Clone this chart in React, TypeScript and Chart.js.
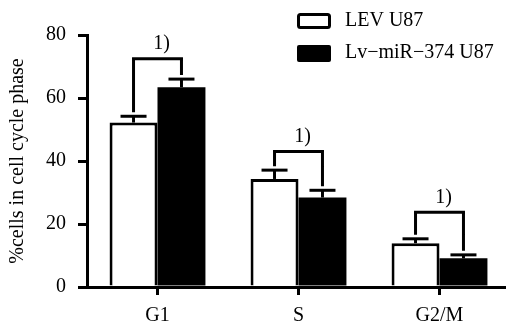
import React, { useEffect, useRef } from "react";
import { Chart, registerables } from "chart.js";

Chart.register(...registerables);

const categories = ["G1", "S", "G2/M"];
const seriesLabels = ["LEV U87", "Lv\u2212miR\u2212374 U87"];
const levValues = [52.2, 34.3, 13.9];
const levErrors = [2.0, 2.8, 1.4];
const mirValues = [63.4, 28.4, 9.1];
const mirErrors = [2.6, 2.3, 1.1];
const bracketLevels = [72.5, 43, 23.7];
const bracketLabels = ["1)", "1)", "1)"];
const yTicks = [0, 20, 40, 60, 80];

const FONT = "'Liberation Serif', 'Times New Roman', serif";

const overlayPlugin = {
  id: "overlay",
  afterDatasetsDraw(chart: any) {
    const ctx = chart.ctx;
    const y = chart.scales.y;
    const errs = [levErrors, mirErrors];
    const vals = [levValues, mirValues];
    ctx.save();
    ctx.strokeStyle = "#000";
    ctx.lineWidth = 3;
    ctx.lineCap = "butt";
    // error bars
    for (let d = 0; d < 2; d++) {
      const meta = chart.getDatasetMeta(d);
      meta.data.forEach((bar: any, j: number) => {
        const top = y.getPixelForValue(vals[d][j] + errs[d][j]);
        ctx.beginPath();
        ctx.moveTo(bar.x, bar.y);
        ctx.lineTo(bar.x, top);
        ctx.stroke();
        ctx.beginPath();
        ctx.moveTo(bar.x - 13, top);
        ctx.lineTo(bar.x + 13, top);
        ctx.stroke();
      });
    }
    // significance brackets
    const m0 = chart.getDatasetMeta(0);
    const m1 = chart.getDatasetMeta(1);
    ctx.font = `20px ${FONT}`;
    ctx.fillStyle = "#000";
    ctx.textAlign = "center";
    ctx.textBaseline = "middle";
    categories.forEach((_, j) => {
      const lx = m0.data[j].x;
      const rx = m1.data[j].x;
      const ty = y.getPixelForValue(bracketLevels[j]);
      const lb = y.getPixelForValue(levValues[j] + levErrors[j]) - 4;
      const rb = y.getPixelForValue(mirValues[j] + mirErrors[j]) - 4;
      ctx.beginPath();
      ctx.moveTo(lx, lb);
      ctx.lineTo(lx, ty);
      ctx.lineTo(rx, ty);
      ctx.lineTo(rx, rb);
      ctx.stroke();
      ctx.fillText(bracketLabels[j], (lx + rx) / 2 + 4, ty - 15);
    });
    // legend
    const lx = chart.width - 215;
    const rows = [21, 53];
    rows.forEach((ry, i) => {
      ctx.beginPath();
      if (i === 0) {
        ctx.lineWidth = 3;
        ctx.roundRect(lx + 1.5, ry - 6.5, 31, 13, 2);
        ctx.stroke();
      } else {
        ctx.roundRect(lx, ry - 8, 34, 17, 2);
        ctx.fill();
      }
      ctx.textAlign = "left";
      ctx.fillText(seriesLabels[i], lx + 48, ry);
    });
    ctx.restore();
  },
};

export default function App() {
  const ref = useRef<HTMLCanvasElement>(null);
  useEffect(() => {
    const chart = new Chart(ref.current!, {
      type: "bar",
      data: {
        labels: categories,
        datasets: [
          {
            label: seriesLabels[0],
            data: levValues,
            backgroundColor: "#fff",
            borderColor: "#000",
            borderWidth: 3,
            categoryPercentage: 0.68,
            barPercentage: 1,
          },
          {
            label: seriesLabels[1],
            data: mirValues,
            backgroundColor: "#000",
            borderColor: "#000",
            borderWidth: 0,
            categoryPercentage: 0.68,
            barPercentage: 1,
          },
        ],
      },
      options: {
        animation: false,
        responsive: false,
        layout: { padding: { top: 35, right: 2, left: 0, bottom: 0 } },
        plugins: { legend: { display: false }, tooltip: { enabled: false } },
        scales: {
          x: {
            grid: {
              display: true,
              offset: false,
              drawOnChartArea: false,
              drawTicks: true,
              tickLength: 8,
              color: "#000",
              lineWidth: 3,
            },
            border: { display: true, color: "#000", width: 3 },
            ticks: { color: "#000", font: { family: FONT, size: 20 }, padding: 9 },
            afterFit: (s: any) => {
              s.height = 40;
            },
          },
          y: {
            min: 0,
            max: 80,
            afterBuildTicks: (s: any) => {
              s.ticks = yTicks.map((v) => ({ value: v }));
            },
            grid: {
              display: true,
              drawOnChartArea: false,
              drawTicks: true,
              tickLength: 9,
              color: "#000",
              lineWidth: 3,
            },
            border: { display: true, color: "#000", width: 3 },
            ticks: { color: "#000", font: { family: FONT, size: 20 }, padding: 12 },
            title: {
              display: true,
              text: "%cells in cell cycle phase",
              color: "#000",
              font: { family: FONT, size: 20 },
              padding: { top: 6, bottom: 0 },
            },
            afterFit: (s: any) => {
              s.width = 87;
            },
          },
        },
      },
      plugins: [overlayPlugin],
    });
    return () => chart.destroy();
  }, []);
  return (
    <div style={{ position: "fixed", left: 0, top: 0, width: 512, height: 327, background: "#fff" }}>
      <canvas ref={ref} width={512} height={327} style={{ width: 512, height: 327 }} />
    </div>
  );
}
